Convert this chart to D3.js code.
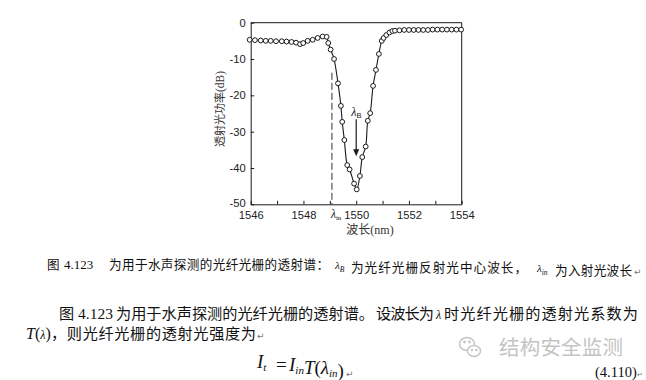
<!DOCTYPE html>
<html><head><meta charset="utf-8">
<script src="https://cdn.jsdelivr.net/npm/d3@7"></script>
<style>body{margin:0;background:#fff}svg{display:block}</style>
</head><body><svg id="c" width="646" height="380"></svg>
<script>
// ---- data ----
const wavelength = [1545.96,1546.16,1546.38,1546.57,1546.76,1546.96,1547.18,1547.36,1547.55,1547.72,
  1547.87,1547.99,1548.16,1548.35,1548.54,1548.73,1548.88,1548.94,1549.03,1549.16,
  1549.31,1549.42,1549.47,1549.55,1549.66,1549.75,1549.92,1550.02,1550.14,
  1550.23,1550.36,1550.44,1550.53,1550.64,1550.75,1550.86,1550.97,1551.04,1551.14,1551.26,1551.37,1551.47,
  1551.64,1551.82,1552.0,1552.18,1552.36,1552.54,1552.72,1552.9,1553.08,1553.26,1553.44,1553.62,1553.8,1553.98];
const power = [-4.7,-4.8,-4.9,-5.0,-5.0,-5.1,-5.1,-5.2,-5.3,-5.5,
  -5.9,-5.6,-5.0,-4.7,-4.2,-3.8,-3.9,-5.6,-7.4,-10.0,
  -16.7,-22.9,-27.3,-32.3,-39.2,-40.4,-44.3,-45.9,-42.2,
  -37.0,-34.1,-27.0,-24.9,-17.4,-13.0,-8.6,-5.0,-4.2,-3.4,-2.7,-2.3,-2.2,
  -2.1,-2.0,-2.0,-2.0,-2.0,-2.0,-2.0,-1.9,-1.9,-1.9,-1.9,-1.9,-1.9,-1.9];
const xTicks = [1546,1547,1548,1549,1550,1551,1552,1553,1554];
const xTickLabels = [1546,1548,1550,1552,1554];
const yTicks = [-50,-40,-30,-20,-10,0];
const lambdaIn = 1549.08;     // dashed marker
const lambdaInTop = -13.8;
const lambdaB = 1550.0;       // arrow
const arrowFrom = -26.6, arrowTo = -36.8;

const svg = d3.select("#c");
const x = d3.scaleLinear().domain([1546,1554]).range([250.7,461.7]);
const y = d3.scaleLinear().domain([-50,0]).range([204.3,22.7]);
const ink = "#1a1a1a";

// frame (top & right)
svg.append("path")
  .attr("d", `M${x(1546)},${y(0)}H${x(1554)}V${y(-50)}`)
  .attr("fill","none").attr("stroke",ink).attr("stroke-width",1);

const gx = svg.append("g").attr("transform",`translate(0,${y(-50)})`)
  .call(d3.axisBottom(x).tickValues(xTicks).tickSizeInner(-3.5).tickSizeOuter(0).tickPadding(6.5)
    .tickFormat(d => xTickLabels.includes(d) ? String(d) : ""));
const gy = svg.append("g").attr("transform",`translate(${x(1546)},0)`)
  .call(d3.axisLeft(y).tickValues(yTicks).tickSizeInner(-3.5).tickSizeOuter(0).tickPadding(5)
    .tickFormat(d => String(d)));
[gx,gy].forEach(g => {
  g.select(".domain").attr("stroke",ink);
  g.selectAll(".tick line").attr("stroke",ink);
  g.selectAll(".tick text").attr("fill","#222").attr("font-family","Liberation Sans, Arial, sans-serif").attr("font-size",11.2);
});
gy.selectAll(".tick text").filter(d => d === -50).attr("dy","0.2em");

// dashed lambda_in marker
svg.append("line").attr("x1",x(lambdaIn)).attr("x2",x(lambdaIn))
  .attr("y1",y(lambdaInTop)).attr("y2",y(-50))
  .attr("stroke","#333").attr("stroke-width",1).attr("stroke-dasharray","7,3");

// curve + points
const pts = wavelength.map((w,i)=>[w,power[i]]);
svg.append("path").datum(pts)
  .attr("d", d3.line().x(d=>x(d[0])).y(d=>y(d[1])).curve(d3.curveCatmullRom.alpha(0.5)))
  .attr("fill","none").attr("stroke",ink).attr("stroke-width",1.1);
svg.append("g").selectAll("circle").data(pts).join("circle")
  .attr("cx",d=>x(d[0])).attr("cy",d=>y(d[1])).attr("r",2.4)
  .attr("fill","#fff").attr("stroke",ink).attr("stroke-width",1);

// arrow lambda_B
svg.append("line").attr("x1",x(lambdaB)).attr("x2",x(lambdaB))
  .attr("y1",y(arrowFrom)).attr("y2",y(arrowTo)-5)
  .attr("stroke",ink).attr("stroke-width",1.2);
svg.append("path")
  .attr("d",`M${x(lambdaB)-3},${y(arrowTo)-7}L${x(lambdaB)+3},${y(arrowTo)-7}L${x(lambdaB)},${y(arrowTo)}Z`)
  .attr("fill",ink);
const lb = svg.append("text").attr("x",x(lambdaB)-5).attr("y",y(arrowFrom)-3)
  .attr("font-family","Liberation Serif, serif").attr("font-size",12).attr("fill",ink);
lb.append("tspan").attr("font-style","italic").text("λ");
lb.append("tspan").attr("font-size",7.5).attr("dy",1.5).attr("font-family","Liberation Sans, sans-serif").text("B");

// lambda_in label under the axis
const li = svg.append("text").attr("x",x(lambdaIn)-1).attr("y",y(-50)+14)
  .attr("font-family","Liberation Serif, serif").attr("font-size",11.5).attr("fill",ink);
li.append("tspan").attr("font-style","italic").text("λ");
li.append("tspan").attr("font-size",7).attr("dy",1.5).text("in");

// axis titles
const xt = svg.append("text").attr("x",370).attr("y",234).attr("text-anchor","middle")
  .attr("font-size",12).attr("fill","#333");
xt.append("tspan").attr("font-family","Noto Sans CJK SC").text("波长");
xt.append("tspan").attr("font-family","Liberation Serif, serif").text("(nm)");
const yt = svg.append("text").attr("transform","translate(224,109) rotate(-90)").attr("text-anchor","middle")
  .attr("font-size",11).attr("fill","#333");
yt.append("tspan").attr("font-family","Noto Sans CJK SC").text("透射光功率");
yt.append("tspan").attr("font-family","Liberation Serif, serif").attr("font-size",11.5).text("(dB)");

// ---- text below the chart ----
const CJK = "Noto Sans CJK SC", SER = "Liberation Serif, serif";
function seg(parent, xPos, txt, fam, opts={}) {
  const t = parent.append("tspan").attr("font-family", fam).text(txt);
  if (xPos !== null) t.attr("x", xPos);
  if (opts.italic) t.attr("font-style","italic");
  if (opts.size) t.attr("font-size", opts.size);
  if (opts.len) t.attr("textLength", opts.len).attr("lengthAdjust","spacing");
  return t;
}
function sub(parent, txt, size, fam) {
  parent.append("tspan").attr("font-family",fam||SER).attr("font-style","italic").attr("font-size",size).attr("dy",3).text(txt);
  parent.append("tspan").attr("dy",-3).text("");
}
const ret = (parent,xPos,size)=> parent.append("tspan").attr("x",xPos).attr("font-family","DejaVu Sans").attr("font-size",size).attr("fill","#777").text("↵");

// caption
const cap = svg.append("text").attr("y",269).attr("font-size",12.6).attr("fill","#111");
seg(cap,47,"图",CJK);
seg(cap,64,"4.123",SER,{size:13});
seg(cap,109,"为用于水声探测的光纤光栅的透射谱：",CJK,{len:220});
seg(cap,335,"λ",SER,{italic:true,size:11});
sub(cap,"B",7.5);
seg(cap,351,"为光纤光栅反射光中心波长，",CJK,{len:176});
seg(cap,537,"λ",SER,{italic:true,size:11});
sub(cap,"in",7.5);
seg(cap,555,"为入射光波长",CJK,{len:77});
ret(cap,634,9);

// paragraph line 1
const p1 = svg.append("text").attr("y",319).attr("font-size",15.2).attr("fill","#111");
seg(p1,59,"图",CJK);
seg(p1,78,"4.123",SER,{size:15.5});
seg(p1,116,"为用于水声探测的光纤光栅的透射谱。",CJK,{len:258});
seg(p1,376,"设波长为",CJK,{len:58});
seg(p1,436,"λ",SER,{italic:true,size:12});
seg(p1,444,"时光纤光栅的透射光系数为",CJK,{len:194});

// paragraph line 2
const p2 = svg.append("text").attr("y",339).attr("font-size",15.2).attr("fill","#111");
seg(p2,26,"T",SER,{italic:true,size:16});
p2.append("tspan").attr("font-family",SER).attr("font-size",16).text("(");
p2.append("tspan").attr("font-family",SER).attr("font-style","italic").attr("font-size",12).text("λ");
p2.append("tspan").attr("font-family",SER).attr("font-size",16).text(")");
seg(p2,51,"，则光纤光栅的透射光强度为",CJK,{len:205});
ret(p2,257,9);

// formula
const f = svg.append("text").attr("y",368).attr("font-size",19).attr("font-family",SER).attr("fill","#111");
seg(f,257,"I",SER,{italic:true});
sub(f,"t",11);
seg(f,276,"=",SER);
seg(f,289,"I",SER,{italic:true});
sub(f,"in",11);
seg(f,null,"T",SER,{italic:true});
f.append("tspan").text("(");
f.append("tspan").attr("font-style","italic").text("λ");
sub(f,"in",11);
f.append("tspan").text(")");
f.append("tspan").attr("dx",2).attr("font-family","DejaVu Sans").attr("font-size",9).attr("fill","#777").text("↵");

// equation number
const en = svg.append("text").attr("y",376.5).attr("font-size",14.5).attr("font-family",SER).attr("fill","#111");
seg(en,595,"(4.110)",SER);
ret(en,637,7);

// watermark
const wm = svg.append("g").attr("fill","#fff").attr("stroke","#c4c4c4").attr("stroke-width",1.4);
wm.append("ellipse").attr("cx",467).attr("cy",344).attr("rx",7.5).attr("ry",6.5);
wm.append("ellipse").attr("cx",474).attr("cy",351).attr("rx",6.5).attr("ry",5.5);
wm.append("circle").attr("cx",472).attr("cy",350).attr("r",0.6).attr("fill","#c4c4c4");
wm.append("circle").attr("cx",476.5).attr("cy",350).attr("r",0.6).attr("fill","#c4c4c4");
wm.append("circle").attr("cx",464.5).attr("cy",342).attr("r",0.7).attr("fill","#c4c4c4");
wm.append("circle").attr("cx",469.5).attr("cy",342).attr("r",0.7).attr("fill","#c4c4c4");
svg.append("text").attr("x",499).attr("y",355).attr("font-family",CJK).attr("font-size",20.5)
  .attr("fill","#c4c4c4").attr("textLength",124).attr("lengthAdjust","spacing").text("结构安全监测");
</script></body></html>
